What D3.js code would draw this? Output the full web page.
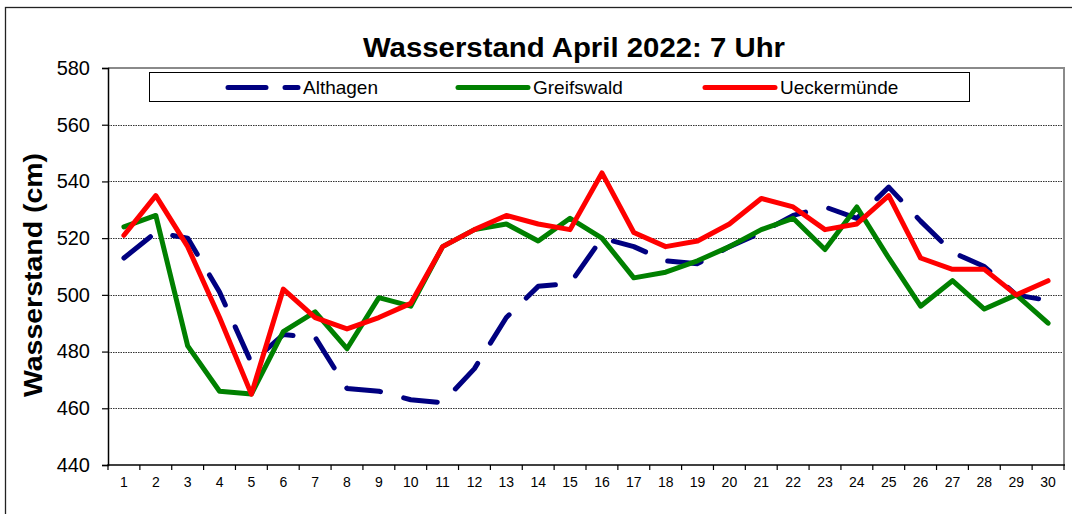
<!DOCTYPE html>
<html>
<head>
<meta charset="utf-8">
<script src="https://cdn.jsdelivr.net/npm/d3@7"></script>
<style>
  html, body { margin: 0; padding: 0; background: #fff; }
  svg { display: block; font-family: "Liberation Sans", Arial, sans-serif; }
</style>
</head>
<body>
<svg id="chart" width="1072" height="514"></svg>
<script>
const days = d3.range(1, 31);
const althagen = [513,522,520,501,476,486,485,467,466,463,462,474,492,503,504,520,517,512,511,517,522,528,531,527,538,526,515,510,500,498];
const greifswald = [524,528,482,466,465,487,494,481,499,496,517,523,525,519,527,520,506,508,512,517,523,527,516,531,513,496,505,495,500,490];
const ueckermuende = [521,535,517,492,465,502,492,488,492,497,517,523,528,525,523,543,522,517,519,525,534,531,523,525,535,513,509,509,500,505];
const yTicks = [440,460,480,500,520,540,560,580];
const seriesNames = ["Althagen","Greifswald","Ueckermünde"];
const seriesColors = ["#000080","#008000","#FF0000"];
const titleText = "Wasserstand April 2022: 7 Uhr";
const yLabel = "Wasserstand (cm)";

const svg = d3.select("#chart");
const L = 108, R = 1064, T = 68, B = 465;

// outer chart border
svg.append("rect").attr("x", 5.5).attr("y", 7.5).attr("width", 1080).attr("height", 520)
  .attr("fill", "#fff").attr("stroke", "#222").attr("stroke-width", 1.3);

const x = d3.scaleBand().domain(days).range([L, R]).padding(0);
const y = d3.scaleLinear().domain([440, 580]).range([B, T]);

// gridlines
svg.append("g").selectAll("line").data(yTicks.filter(v => v > 440 && v < 580)).join("line")
  .attr("x1", L).attr("x2", R).attr("y1", d => Math.round(y(d)) + 0.5).attr("y2", d => Math.round(y(d)) + 0.5)
  .attr("stroke", "#333").attr("stroke-width", 1).attr("stroke-dasharray", "1.5,1");

// top & right plot border (gray)
svg.append("path")
  .attr("d", `M${L},${T} H${R} V${B}`)
  .attr("fill", "none").attr("stroke", "#8a8a8a").attr("stroke-width", 2);

// y axis
const yAxis = d3.axisLeft(y).tickValues(yTicks).tickSize(6).tickPadding(12).tickFormat(d3.format("d"));
const gy = svg.append("g").attr("transform", `translate(${L},0)`).call(yAxis);
gy.select(".domain").attr("stroke", "#000").attr("stroke-width", 1.5);
gy.selectAll(".tick line").attr("stroke", "#000").attr("stroke-width", 1.2);
gy.selectAll(".tick text").attr("font-size", 20).attr("fill", "#000")
  .attr("font-family", "Liberation Sans, Arial, sans-serif");

// x axis: labels centered in bands, ticks at band edges
const xAxis = d3.axisBottom(x).tickSize(0).tickPadding(12);
const gx = svg.append("g").attr("transform", `translate(0,${B})`).call(xAxis);
gx.select(".domain").remove();
gx.selectAll(".tick text").attr("font-size", 14).attr("fill", "#000")
  .attr("font-family", "Liberation Sans, Arial, sans-serif");
const edges = days.map(d => x(d)).concat([x(days[days.length - 1]) + x.bandwidth()]);
svg.append("g").selectAll("line").data(edges).join("line")
  .attr("x1", d => d).attr("x2", d => d).attr("y1", B).attr("y2", B + 5)
  .attr("stroke", "#000").attr("stroke-width", 1.2);
svg.append("line").attr("x1", L - 0.75).attr("x2", R + 1).attr("y1", B).attr("y2", B)
  .attr("stroke", "#000").attr("stroke-width", 1.5);

// lines
const line = d3.line().x((d, i) => x(days[i]) + x.bandwidth() / 2).y(d => y(d));
const allSeries = [althagen, greifswald, ueckermuende];
const dashes = ["34,24", null, null];
allSeries.forEach((s, k) => {
  svg.append("path").datum(s).attr("d", line)
    .attr("fill", "none").attr("stroke", seriesColors[k]).attr("stroke-width", 5)
    .attr("stroke-linejoin", "round").attr("stroke-linecap", "round")
    .attr("stroke-dasharray", dashes[k]);
});

// legend
svg.append("rect").attr("x", 149.5).attr("y", 72.5).attr("width", 820).attr("height", 29)
  .attr("fill", "#fff").attr("stroke", "#000").attr("stroke-width", 1);
const legX = [228, 458, 705];
seriesNames.forEach((n, k) => {
  const g = svg.append("g");
  g.append("line").attr("x1", legX[k]).attr("x2", legX[k] + 70).attr("y1", 87.5).attr("y2", 87.5)
    .attr("stroke", seriesColors[k]).attr("stroke-width", 5).attr("stroke-linecap", "round")
    .attr("stroke-dasharray", k === 0 ? "38,19" : null);
  g.append("text").attr("x", legX[k] + 75).attr("y", 94).attr("font-size", 19).attr("fill", "#000").text(n);
});

// title
svg.append("text").attr("x", 574).attr("y", 57).attr("text-anchor", "middle")
  .attr("font-size", 27).attr("font-weight", "bold").attr("fill", "#000")
  .attr("textLength", 422).attr("lengthAdjust", "spacingAndGlyphs").text(titleText);

// y label
svg.append("text").attr("transform", "translate(42,275) rotate(-90)").attr("text-anchor", "middle")
  .attr("font-size", 25).attr("font-weight", "bold").attr("fill", "#000")
  .attr("textLength", 244).attr("lengthAdjust", "spacingAndGlyphs").text(yLabel);
</script>
</body>
</html>
